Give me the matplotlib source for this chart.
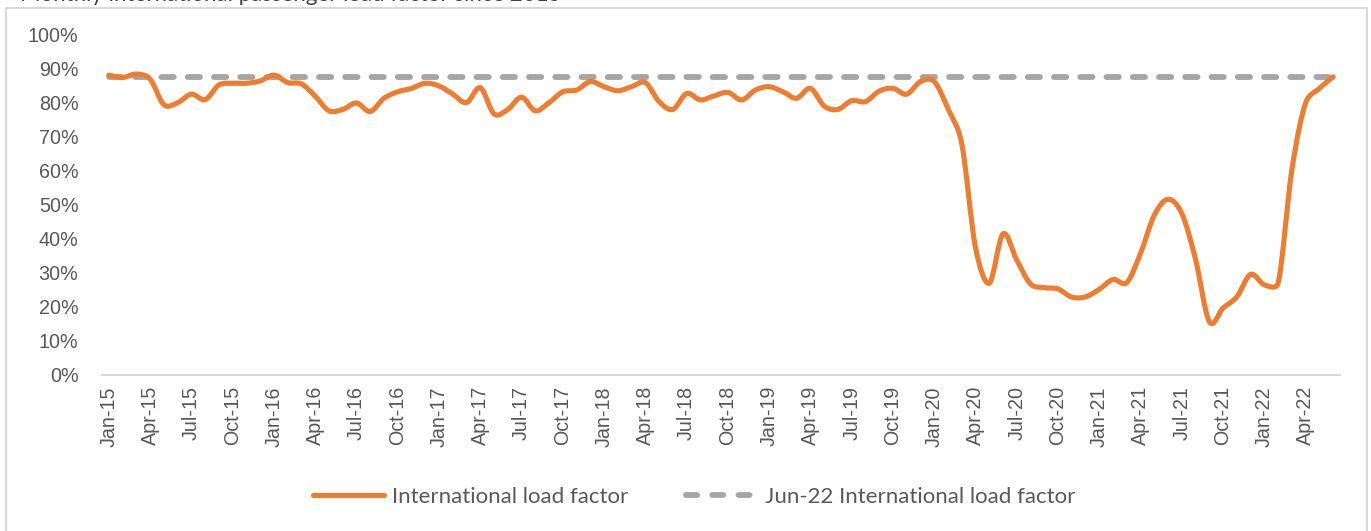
import numpy as np
import pandas as pd
import matplotlib
matplotlib.use("Agg")
import matplotlib.pyplot as plt
from matplotlib.path import Path
from matplotlib.patches import PathPatch, Rectangle
from matplotlib.ticker import PercentFormatter

# monthly international load factor, Jan-15 .. Jun-22 (%)
months = pd.date_range("2015-01-01", periods=90, freq="MS").strftime("%b-%y").tolist()
load_factor = [
    88.2, 87.5, 88.5, 87.0, 79.5, 80.1, 82.6, 81.0, 85.3, 85.8, 85.8, 86.5,
    88.2, 86.0, 85.6, 82.0, 77.7, 78.1, 80.0, 77.5, 81.4, 83.3, 84.3, 85.8,
    85.0, 82.6, 80.1, 84.5, 76.8, 78.1, 81.7, 77.7, 80.1, 83.3, 83.8, 86.3,
    84.8, 83.6, 84.8, 86.0, 80.4, 78.1, 82.8, 80.9, 82.1, 83.1, 80.9, 83.8,
    84.8, 83.3, 81.4, 84.3, 79.1, 78.1, 80.7, 80.4, 83.5, 84.3, 82.6, 86.3,
    86.3, 78.3, 68.1, 37.5, 27.0, 41.5, 33.8, 26.8, 25.7, 25.3, 22.9, 23.0,
    25.2, 28.1, 27.2, 35.8, 47.0, 51.7, 47.5, 34.0, 15.7, 19.7, 23.0, 29.6,
    26.5, 27.0, 60.3, 80.0, 84.3, 87.7,
]
jun22_lf = 87.7

orange = "#ED7D31"
grey = "#A5A5A5"
txt = "#595959"

fig = plt.figure(figsize=(13.71, 5.31), dpi=100)
ax = fig.add_axes([102 / 1371, 1 - 375 / 531, 1238 / 1371, 340 / 531])

x = np.arange(len(months))
y = np.array(load_factor) / 100
n = len(x)

# Excel style smoothed line: bezier segments, control arms limited to half
# the segment length (worked out in pixel space of this axes)
sx, sy = 1238 / n, 340.0
pts = np.column_stack([x * sx, y * sy])
verts = [tuple(pts[0])]
codes = [Path.MOVETO]
for i in range(n - 1):
    p0 = pts[max(i - 1, 0)]
    p1 = pts[i]
    p2 = pts[i + 1]
    p3 = pts[min(i + 2, n - 1)]
    d12 = np.linalg.norm(p2 - p1)
    d02 = np.linalg.norm(p2 - p0)
    d13 = np.linalg.norm(p3 - p1)
    f0 = min(1 / 6, d12 / (2 * d02)) if d02 > 0 else 0
    f1 = min(1 / 6, d12 / (2 * d13)) if d13 > 0 else 0
    c1 = p1 + f0 * (p2 - p0)
    c2 = p2 - f1 * (p3 - p1)
    verts += [tuple(c1), tuple(c2), tuple(p2)]
    codes += [Path.CURVE4] * 3
verts = [(vx / sx, vy / sy) for vx, vy in verts]
ax.add_patch(PathPatch(Path(verts, codes), fill=False, edgecolor=orange,
                       lw=3.7, capstyle="round", joinstyle="round", zorder=3))

ax.plot(x, [jun22_lf / 100] * n, color=grey, lw=4.2, dashes=(2.1, 2.4),
        dash_capstyle="round", zorder=2)

# legend proxies
h1, = ax.plot([], [], color=orange, lw=3.7, solid_capstyle="round")
h2, = ax.plot([], [], color=grey, lw=4.2, dashes=(1.9, 2.6), dash_capstyle="round")

ax.set_xlim(-0.5, n - 0.5)
ax.set_ylim(0, 1)
ax.yaxis.set_major_locator(plt.MultipleLocator(0.1))
ax.yaxis.set_major_formatter(PercentFormatter(1.0, decimals=0))
ax.set_xticks(x[::3])
ax.set_xticklabels(months[::3], rotation=90)

for s in ["top", "right", "left"]:
    ax.spines[s].set_visible(False)
ax.spines["bottom"].set_color("#D9D9D9")
ax.spines["bottom"].set_linewidth(1.5)
ax.tick_params(length=0, colors=txt, labelsize=14.2)
ax.tick_params(axis="y", pad=17)
ax.tick_params(axis="x", pad=8)
for lab in ax.get_xticklabels() + ax.get_yticklabels():
    lab.set_fontfamily(["Liberation Sans", "DejaVu Sans"])

leg = fig.legend([h1, h2], ["International load factor", "Jun-22 International load factor"],
                 loc="center", bbox_to_anchor=(694 / 1371, 1 - 497 / 531), ncol=2,
                 frameon=False, handlelength=3.2, handletextpad=0.35, columnspacing=2.6,
                 prop={"family": ["Lato", "DejaVu Sans"], "size": 16})
for t in leg.get_texts():
    t.set_color(txt)

# outer chart border and clipped title strip
fig.patches.append(Rectangle((6 / 1371, -0.05), 1361 / 1371, 1.05 - 8 / 531,
                             transform=fig.transFigure, fill=False,
                             edgecolor="#D9D9D9", lw=1.5))
fig.text(20 / 1371, 1 - 1 / 531, "Monthly international passenger load factor since 2015",
         fontsize=16, color="#404040", va="baseline", family=["Lato", "DejaVu Sans"])

fig.savefig("out.png", dpi=100)
